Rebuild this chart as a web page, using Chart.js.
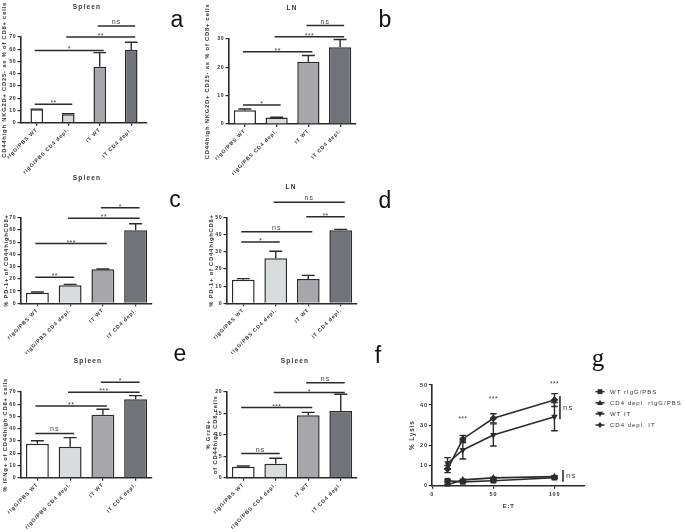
<!DOCTYPE html>
<html>
<head>
<meta charset="utf-8">
<script src="https://cdn.jsdelivr.net/npm/chart.js"></script>
<style>
  body { margin: 0; background: #fff; }
  #fig { position: relative; width: 686px; height: 532px; overflow: hidden; font-family: "Liberation Sans", Arial, sans-serif; }
  #fig canvas { position: absolute; }
  .ttl { position: absolute; font-size: 6.5px; font-weight: bold; letter-spacing: 1.2px; color: #333; transform: translate(-50%, -50%); white-space: nowrap; }
  .lbl { position: absolute; font-size: 23px; color: #111; line-height: 1; transform: translate(-50%, -50%); }
  .serif { font-family: "Liberation Serif", "Times New Roman", serif; font-size: 25px; }
</style>
</head>
<body>
<div id="fig">
  <canvas id="cA" width="165" height="182" style="left:0;top:0"></canvas>
  <canvas id="cB" width="170" height="182" style="left:200px;top:0"></canvas>
  <canvas id="cC" width="165" height="182" style="left:0;top:172px"></canvas>
  <canvas id="cD" width="170" height="182" style="left:200px;top:172px"></canvas>
  <canvas id="cE" width="165" height="187" style="left:0;top:345px"></canvas>
  <canvas id="cF" width="170" height="187" style="left:200px;top:345px"></canvas>
  <canvas id="cG" width="286" height="187" style="left:400px;top:345px"></canvas>

  <div class="ttl" style="left:87px;top:5.5px">Spleen</div>
  <div class="ttl" style="left:292px;top:7px">LN</div>
  <div class="ttl" style="left:87px;top:177px">Spleen</div>
  <div class="ttl" style="left:291px;top:186px">LN</div>
  <div class="ttl" style="left:88px;top:360px">Spleen</div>
  <div class="ttl" style="left:295px;top:360px">Spleen</div>

  <div class="lbl" style="left:177px;top:19px">a</div>
  <div class="lbl" style="left:385px;top:19px">b</div>
  <div class="lbl" style="left:175px;top:199px">c</div>
  <div class="lbl" style="left:385px;top:200px">d</div>
  <div class="lbl" style="left:180px;top:353px">e</div>
  <div class="lbl" style="left:378px;top:355px">f</div>
  <div class="lbl serif" style="left:598px;top:357px">g</div>
</div>

<script>
const groups = ['rIgG/PBS WT', 'rIgG/PBS CD4 depl.', 'IT WT', 'IT CD4 depl.'];

// a - spleen, NKG2D+ CD25-
const aMean = [10.9, 6.8, 45.8, 59.4];
const aSem = [0.2, 0.6, 11.4, 6.3];
const aSig = [[0, 1, 15, '**'], [0, 2, 59, '*'], [1, 3, 70, '**'], [2, 3, 79, 'ns']];

// b - LN, NKG2D+ CD25-
const bMean = [4.8, 2.3, 21.9, 27.0];
const bSem = [0.5, 0.1, 2.2, 2.7];
const bSig = [[0, 1, 6.7, '*'], [0, 2, 25.4, '**'], [1, 3, 30.7, '***'], [2, 3, 34.6, 'ns']];

// c - spleen, PD-1+
const cMean = [8.7, 14.7, 27.8, 59.7];
const cSem = [0.6, 0.8, 0.3, 5.3];
const cSig = [[0, 1, 21.3, '**'], [0, 2, 48.8, '***'], [1, 3, 69.5, '**'], [2, 3, 78.2, '*']];

// d - LN, PD-1+
const dMean = [13.8, 26.3, 14.2, 42.6];
const dSem = [0.6, 4.1, 2.1, 0.6];
const dSig = [[0, 1, 35.8, '*'], [0, 2, 41.8, 'ns'], [2, 3, 50.6, '**'], [1, 3, 59, 'ns']];

// e - spleen, IFNg+
const eMean = [27.8, 25.3, 51.5, 64.0];
const eSem = [2.4, 7.4, 4.4, 3.0];
const eSig = [[0, 1, 36.2, 'ns'], [0, 2, 58.6, '**'], [1, 3, 69.8, '***'], [2, 3, 78, '*']];

// f - spleen, GrzB+
const fMean = [2.56, 3.26, 14.5, 15.5];
const fSem = [0.15, 1.25, 0.7, 3.9];
const fSig = [[0, 1, 5.6, 'ns'], [0, 2, 16.3, '***'], [1, 3, 19.8, '*'], [2, 3, 22.1, 'ns']];

// g - lysis vs E:T
const etRatio = [12.5, 25, 50, 100];
const lysWtIgg = [2.3, 1.7, 2.3, 3.8];
const lysWtIggSem = [0.4, 0.3, 0.4, 0.5];
const lysCd4Igg = [0.3, 2.7, 3.7, 4.3];
const lysCd4IggSem = [0.3, 0.4, 0.4, 0.4];
const lysWtIt = [11.0, 17.6, 25.1, 34.2];
const lysWtItSem = [2.8, 4.5, 5.5, 7.0];
const lysCd4It = [8.1, 23.1, 33.4, 42.5];
const lysCd4ItSem = [1.8, 1.8, 2.3, 3.2];
const lysStars = [[25, 33.7], [50, 43.4], [100, 50.8]];
const lysNs = [[104.5, 32.9, 44.5], [107, 1.8, 7.6]];

const ink = '#2b2b2b';
const family = '"Liberation Sans", Arial, sans-serif';
const tickFont = { family, size: 5.2, weight: 'bold' };
const axisTitleFont = { family, size: 5.8, weight: 'bold' };
const barFills = ['#ffffff', '#d9dcdc', '#a6a6ab', '#707377'];

// Prism-like spaced lettering
const spacing = {
    id: 'spacing',
    beforeUpdate(chart) { chart.ctx.letterSpacing = '0.8px'; },
    beforeDraw(chart) { chart.ctx.letterSpacing = '0.8px'; }
};

const errorBars = {
    id: 'errorBars',
    afterDatasetsDraw(chart) {
        const ctx = chart.ctx;
        const ys = chart.scales.y;
        const isBar = chart.config.type === 'bar';
        ctx.save();
        ctx.strokeStyle = ink;
        ctx.lineWidth = 1.4;
        chart.data.datasets.forEach((ds, di) => {
            if (!ds.sem) return;
            chart.getDatasetMeta(di).data.forEach((el, i) => {
                const v = typeof ds.data[i] === 'object' ? ds.data[i].y : ds.data[i];
                const top = ys.getPixelForValue(v + ds.sem[i]);
                const x = el.x;
                let bottom, half;
                if (isBar) {
                    bottom = el.y;
                    half = Math.min(el.width * 0.5, 6.5);
                } else {
                    bottom = ys.getPixelForValue(v - ds.sem[i]);
                    half = 3.3;
                }
                ctx.beginPath();
                ctx.moveTo(x, bottom); ctx.lineTo(x, top);
                ctx.moveTo(x - half, top); ctx.lineTo(x + half, top);
                if (!isBar) {
                    ctx.moveTo(x - half, bottom); ctx.lineTo(x + half, bottom);
                }
                ctx.stroke();
            });
        });
        ctx.restore();
    }
};

const sigBrackets = {
    id: 'sigBrackets',
    afterDraw(chart) {
        const ds = chart.data.datasets[0];
        if (!ds.sig) return;
        const ctx = chart.ctx, xs = chart.scales.x, ys = chart.scales.y;
        ctx.save();
        ctx.strokeStyle = ink;
        ctx.fillStyle = '#444';
        ctx.lineWidth = 1.5;
        ctx.textAlign = 'center';
        ctx.textBaseline = 'alphabetic';
        ctx.font = '7px ' + family;
        ds.sig.forEach(([from, to, v, txt]) => {
            const x1 = xs.getPixelForValue(from) - 2;
            const x2 = xs.getPixelForValue(to) + 4;
            const y = ys.getPixelForValue(v);
            ctx.beginPath();
            ctx.moveTo(x1, y); ctx.lineTo(x2, y);
            ctx.stroke();
            if (txt === 'ns') {
                ctx.letterSpacing = '1px';
                ctx.fillText(txt, (x1 + x2) / 2, y - 2);
            } else {
                ctx.letterSpacing = '0.3px';
                ctx.fillText(txt, (x1 + x2) / 2, y + 1);
            }
        });
        ctx.restore();
    }
};

function barPanel(id, mean, sem, sig, g) {
    return new Chart(document.getElementById(id), {
        type: 'bar',
        data: {
            labels: groups,
            datasets: [{
                data: mean,
                sem: sem,
                sig: sig,
                backgroundColor: barFills,
                borderColor: ink,
                borderWidth: 1.5,
                barPercentage: g.bar,
                categoryPercentage: 1
            }]
        },
        plugins: [spacing, errorBars, sigBrackets],
        options: {
            responsive: false,
            animation: false,
            devicePixelRatio: 1,
            events: [],
            layout: { padding: { left: 0, top: g.top, right: g.right, bottom: 0 } },
            plugins: { legend: { display: false }, tooltip: { enabled: false } },
            scales: {
                x: {
                    grid: { drawOnChartArea: false, offset: false, tickLength: 3, color: ink, lineWidth: 1.2 },
                    border: { color: ink, width: 1.6 },
                    ticks: { font: tickFont, color: '#333', minRotation: 45, maxRotation: 45, autoSkip: false, padding: 1 },
                    afterFit: s => { s.height = g.xh; s.paddingLeft = 0; s.paddingRight = 0; }
                },
                y: {
                    min: 0,
                    max: g.max,
                    ticks: { stepSize: g.step, font: tickFont, color: '#333', padding: 1 },
                    grid: { drawOnChartArea: false, tickLength: 3.5, color: ink, lineWidth: 1.2 },
                    border: { color: ink, width: 1.6 },
                    title: { display: true, text: g.title, font: axisTitleFont, color: '#333', padding: { top: g.tpad, bottom: 0 } },
                    afterFit: s => { s.width = g.yw; s.paddingTop = 0; s.paddingBottom = 0; }
                }
            }
        }
    });
}

const nkTitle = 'CD44high NKG2D+ CD25- as % of CD8+ cells';
const pdTitle = '% PD-1+ of CD44highCD8+';

barPanel('cA', aMean, aSem, aSig, { bar: 0.4, top: 37, right: 18, yw: 21, xh: 59.3, max: 70, step: 10, title: nkTitle, tpad: 0.5 });
barPanel('cB', bMean, bSem, bSig, { bar: 0.7, top: 38.7, right: 14, yw: 29, xh: 58, max: 30, step: 10, title: nkTitle, tpad: 4 });
barPanel('cC', cMean, cSem, cSig, { bar: 0.7, top: 45.7, right: 13, yw: 21, xh: 50.7, max: 70, step: 10, title: pdTitle, tpad: 2.5 });
barPanel('cD', dMean, dSem, dSig, { bar: 0.7, top: 45.7, right: 13, yw: 27, xh: 50.7, max: 50, step: 10, title: pdTitle, tpad: 7.5 });
barPanel('cE', eMean, eSem, eSig, { bar: 0.7, top: 47, right: 13, yw: 21, xh: 54.3, max: 70, step: 10, title: '% IFNg+ of CD44high CD8+ cells', tpad: 1.8 });
barPanel('cF', fMean, fSem, fSig, { bar: 0.7, top: 46.7, right: 13, yw: 27, xh: 54.3, max: 20, step: 5, title: ['% GrzB+', 'of CD44high CD8 cells'], tpad: 4.5 });

// lysis panel
function drawMarker(ctx, style, rot, x, y, r) {
    ctx.save();
    ctx.translate(x, y);
    ctx.rotate(rot * Math.PI / 180);
    ctx.beginPath();
    if (style === 'rect') {
        const s = r * 0.8;
        ctx.rect(-s, -s, 2 * s, 2 * s);
    } else if (style === 'triangle') {
        ctx.moveTo(0, -r); ctx.lineTo(r, r * 0.75); ctx.lineTo(-r, r * 0.75); ctx.closePath();
    } else {
        ctx.moveTo(0, -r); ctx.lineTo(r * 0.8, 0); ctx.lineTo(0, r); ctx.lineTo(-r * 0.8, 0); ctx.closePath();
    }
    ctx.fill();
    ctx.restore();
}

const markerLegend = {
    id: 'markerLegend',
    afterDraw(chart) {
        const ctx = chart.ctx, a = chart.chartArea;
        ctx.save();
        ctx.font = '6px ' + family;
        ctx.letterSpacing = '1px';
        ctx.strokeStyle = ink;
        ctx.lineWidth = 1.5;
        ctx.textBaseline = 'middle';
        chart.data.datasets.forEach((ds, i) => {
            const y = a.top + 6.7 + i * 11.1;
            const x = a.right + 15;
            ctx.beginPath();
            ctx.moveTo(x - 4.5, y); ctx.lineTo(x + 4.5, y);
            ctx.stroke();
            ctx.fillStyle = ink;
            drawMarker(ctx, ds.pointStyle, ds.pointRotation || 0, x, y, 3);
            ctx.fillStyle = '#333';
            ctx.fillText(ds.label, x + 10, y + 0.5);
        });
        ctx.restore();
    }
};

const lysisMarks = {
    id: 'lysisMarks',
    afterDraw(chart) {
        const ctx = chart.ctx, xs = chart.scales.x, ys = chart.scales.y;
        ctx.save();
        ctx.fillStyle = '#444';
        ctx.strokeStyle = ink;
        ctx.lineWidth = 1.6;
        ctx.font = '7px ' + family;
        ctx.letterSpacing = '0.3px';
        ctx.textAlign = 'center';
        lysStars.forEach(([x, y]) => ctx.fillText('***', xs.getPixelForValue(x), ys.getPixelForValue(y) + 3));
        ctx.textAlign = 'left';
        ctx.textBaseline = 'middle';
        ctx.font = '8px ' + family;
        ctx.letterSpacing = '1px';
        lysNs.forEach(([x, y1, y2]) => {
            const px = xs.getPixelForValue(x);
            const p1 = ys.getPixelForValue(y1), p2 = ys.getPixelForValue(y2);
            ctx.beginPath();
            ctx.moveTo(px, p1); ctx.lineTo(px, p2);
            ctx.stroke();
            ctx.fillText('ns', px + 3, (p1 + p2) / 2);
        });
        ctx.restore();
    }
};

const toPoints = arr => etRatio.map((x, i) => ({ x, y: arr[i] }));

function lysisSet(label, values, sem, style, rot) {
    return {
        label,
        data: toPoints(values),
        sem,
        pointStyle: style,
        pointRotation: rot,
        pointRadius: style === 'rect' ? 4 : 3.8,
        pointBackgroundColor: ink,
        pointBorderColor: ink,
        pointBorderWidth: 0,
        borderColor: ink,
        borderWidth: 1.6,
        tension: 0,
        clip: false
    };
}

new Chart(document.getElementById('cG'), {
    type: 'line',
    data: {
        datasets: [
            lysisSet('WT rIgG/PBS', lysWtIgg, lysWtIggSem, 'rect', 0),
            lysisSet('CD4 depl. rIgG/PBS', lysCd4Igg, lysCd4IggSem, 'triangle', 0),
            lysisSet('WT IT', lysWtIt, lysWtItSem, 'triangle', 180),
            lysisSet('CD4 depl. IT', lysCd4It, lysCd4ItSem, 'rectRot', 0)
        ]
    },
    plugins: [spacing, errorBars, lysisMarks, markerLegend],
    options: {
        responsive: false,
        animation: false,
        devicePixelRatio: 1,
        events: [],
        layout: { padding: { left: 0, top: 40, right: 101, bottom: 0 } },
        plugins: { legend: { display: false }, tooltip: { enabled: false } },
        scales: {
            x: {
                type: 'linear',
                min: 0,
                max: 125,
                ticks: { stepSize: 50, includeBounds: false, font: { family, size: 5.5, weight: 'bold' }, color: '#333', padding: 2 },
                grid: { drawOnChartArea: false, tickLength: 3.5, color: ink, lineWidth: 1.2 },
                border: { color: ink, width: 1.6 },
                title: { display: true, text: 'E:T', font: axisTitleFont, color: '#333', padding: { top: 0, bottom: 22 } },
                afterFit: s => { s.height = 46.7; s.paddingLeft = 0; s.paddingRight = 0; }
            },
            y: {
                min: 0,
                max: 50,
                ticks: { stepSize: 10, font: { family, size: 5.5, weight: 'bold' }, color: '#333', padding: 1 },
                grid: { drawOnChartArea: false, tickLength: 3.5, color: ink, lineWidth: 1.2 },
                border: { color: ink, width: 1.6 },
                title: { display: true, text: '% Lysis', font: { family, size: 6.5, weight: 'bold' }, color: '#333', padding: { top: 8, bottom: 0 } },
                afterFit: s => { s.width = 32.3; s.paddingTop = 0; s.paddingBottom = 0; }
            }
        }
    }
});
</script>
</body>
</html>
